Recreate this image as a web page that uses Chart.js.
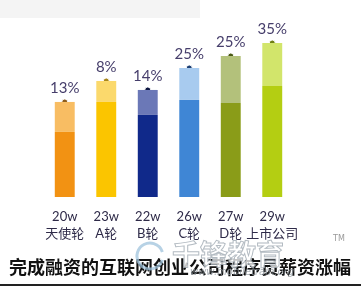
<!DOCTYPE html>
<html>
<head>
<meta charset="utf-8">
<script src="https://cdn.jsdelivr.net/npm/chart.js@4"></script>
<style>
  html, body { margin: 0; padding: 0; background: #fff; }
  #wrap { width: 361px; height: 286px; }
</style>
</head>
<body>
<div id="wrap"><canvas id="chartSalary"></canvas></div>
<script>
const rounds = ['天使轮', 'A轮', 'B轮', 'C轮', 'D轮', '上市公司'];
const salaries = ['20w', '23w', '22w', '26w', '27w', '29w'];
const growth = ['13%', '8%', '14%', '25%', '25%', '35%'];
// bar heights (lower dark part and upper light part)
const baseValues = [65, 95, 82, 97, 94, 111];
const upperValues = [30, 21, 25, 32, 47, 43];
const totals = baseValues.map((v, i) => v + upperValues[i]);
const titleText = '完成融资的互联网创业公司程序员薪资涨幅';

const darkColors = ['#f29213', '#fbc500', '#10298a', '#3f86d5', '#8a9c18', '#b4ce12'];
const lightColors = ['#f8bd63', '#fbd96c', '#6b78b7', '#a8cbef', '#b3c17b', '#d2e56b'];
const dotColors = ['#8a5a1a', '#a8861a', '#0b1440', '#1d3f73', '#4b5a16', '#6f8014'];

const backdrop = {
    id: 'backdrop',
    beforeDraw(chart) {
        const ctx = chart.ctx;
        ctx.save();
        ctx.fillStyle = '#ffffff';
        ctx.fillRect(0, 0, chart.width, chart.height);
        ctx.fillStyle = '#f4f4f4';
        ctx.fillRect(0, 0, 200, 18);
        ctx.restore();
    }
};

const percentLabels = {
    id: 'percentLabels',
    afterDatasetsDraw(chart) {
        const ctx = chart.ctx;
        const meta = chart.getDatasetMeta(2);
        ctx.save();
        ctx.font = '15px Lato';
        ctx.fillStyle = '#463e6b';
        ctx.textAlign = 'center';
        ctx.textBaseline = 'middle';
        meta.data.forEach((pt, i) => {
            ctx.fillText(growth[i], pt.x, pt.y - 14);
        });
        ctx.restore();
    },
    afterDraw(chart) {
        const ctx = chart.ctx;
        ctx.save();
        // title under the axis
        ctx.font = 'bold 18px "Noto Sans CJK SC"';
        ctx.fillStyle = '#111111';
        ctx.textAlign = 'center';
        ctx.textBaseline = 'middle';
        ctx.fillText(titleText, 180, 267);
        // faint watermark over the title
        ctx.textAlign = 'left';
        ctx.globalAlpha = 0.75;
        ctx.lineWidth = 3;
        ctx.strokeStyle = '#9fc3dc';
        ctx.beginPath();
        ctx.arc(150, 256, 13, 0.3, Math.PI * 1.9);
        ctx.stroke();
        ctx.font = 'bold 28px "Noto Sans CJK SC"';
        ctx.fillStyle = '#ffffff';
        ctx.fillText('千锋教育', 172, 254);
        ctx.lineWidth = 1;
        ctx.strokeStyle = '#9aa4ad';
        ctx.strokeText('千锋教育', 172, 254);
        ctx.font = 'italic 10px "DejaVu Sans"';
        ctx.fillStyle = '#8a939b';
        ctx.fillText('www.mobiletrain.org', 190, 272);
        ctx.globalAlpha = 1;
        ctx.font = '8px "DejaVu Sans"';
        ctx.fillStyle = '#9a9a9a';
        ctx.fillText('TM', 333, 239);
        ctx.fillStyle = '#222';
        ctx.fillRect(0, 284, chart.width, 2);
        ctx.restore();
    }
};

const chartSalary = new Chart(document.getElementById('chartSalary'), {
    type: 'bar',
    data: {
        labels: rounds.map((r, i) => [salaries[i], r]),
        datasets: [{
            data: baseValues,
            backgroundColor: darkColors,
            barPercentage: 0.48,
            categoryPercentage: 1
        }, {
            data: upperValues,
            backgroundColor: lightColors,
            barPercentage: 0.48,
            categoryPercentage: 1
        }, {
            type: 'line',
            stack: 'dots',
            data: totals,
            showLine: false,
            pointRadius: 3,
            pointBorderWidth: 1,
            pointBackgroundColor: dotColors,
            pointBorderColor: '#ffffff'
        }]
    },
    options: {
        responsive: true,
        maintainAspectRatio: false,
        animation: false,
        layout: {
            padding: { top: 20, left: 44, right: 68, bottom: 32 }
        },
        plugins: {
            legend: { display: false },
            tooltip: { enabled: false },
            title: { display: false }
        },
        scales: {
            x: {
                stacked: true,
                grid: { display: false, drawTicks: false },
                border: { display: false },
                ticks: {
                    color: '#2e2a48',
                    padding: 11,
                    autoSkip: false,
                    maxRotation: 0,
                    minRotation: 0,
                    font: { family: 'Lato, "Noto Sans CJK SC"', size: 13, lineHeight: 1.35 }
                }
            },
            y: {
                stacked: true,
                display: false,
                min: 0,
                max: 177
            }
        }
    },
    plugins: [backdrop, percentLabels]
});
</script>
</body>
</html>
